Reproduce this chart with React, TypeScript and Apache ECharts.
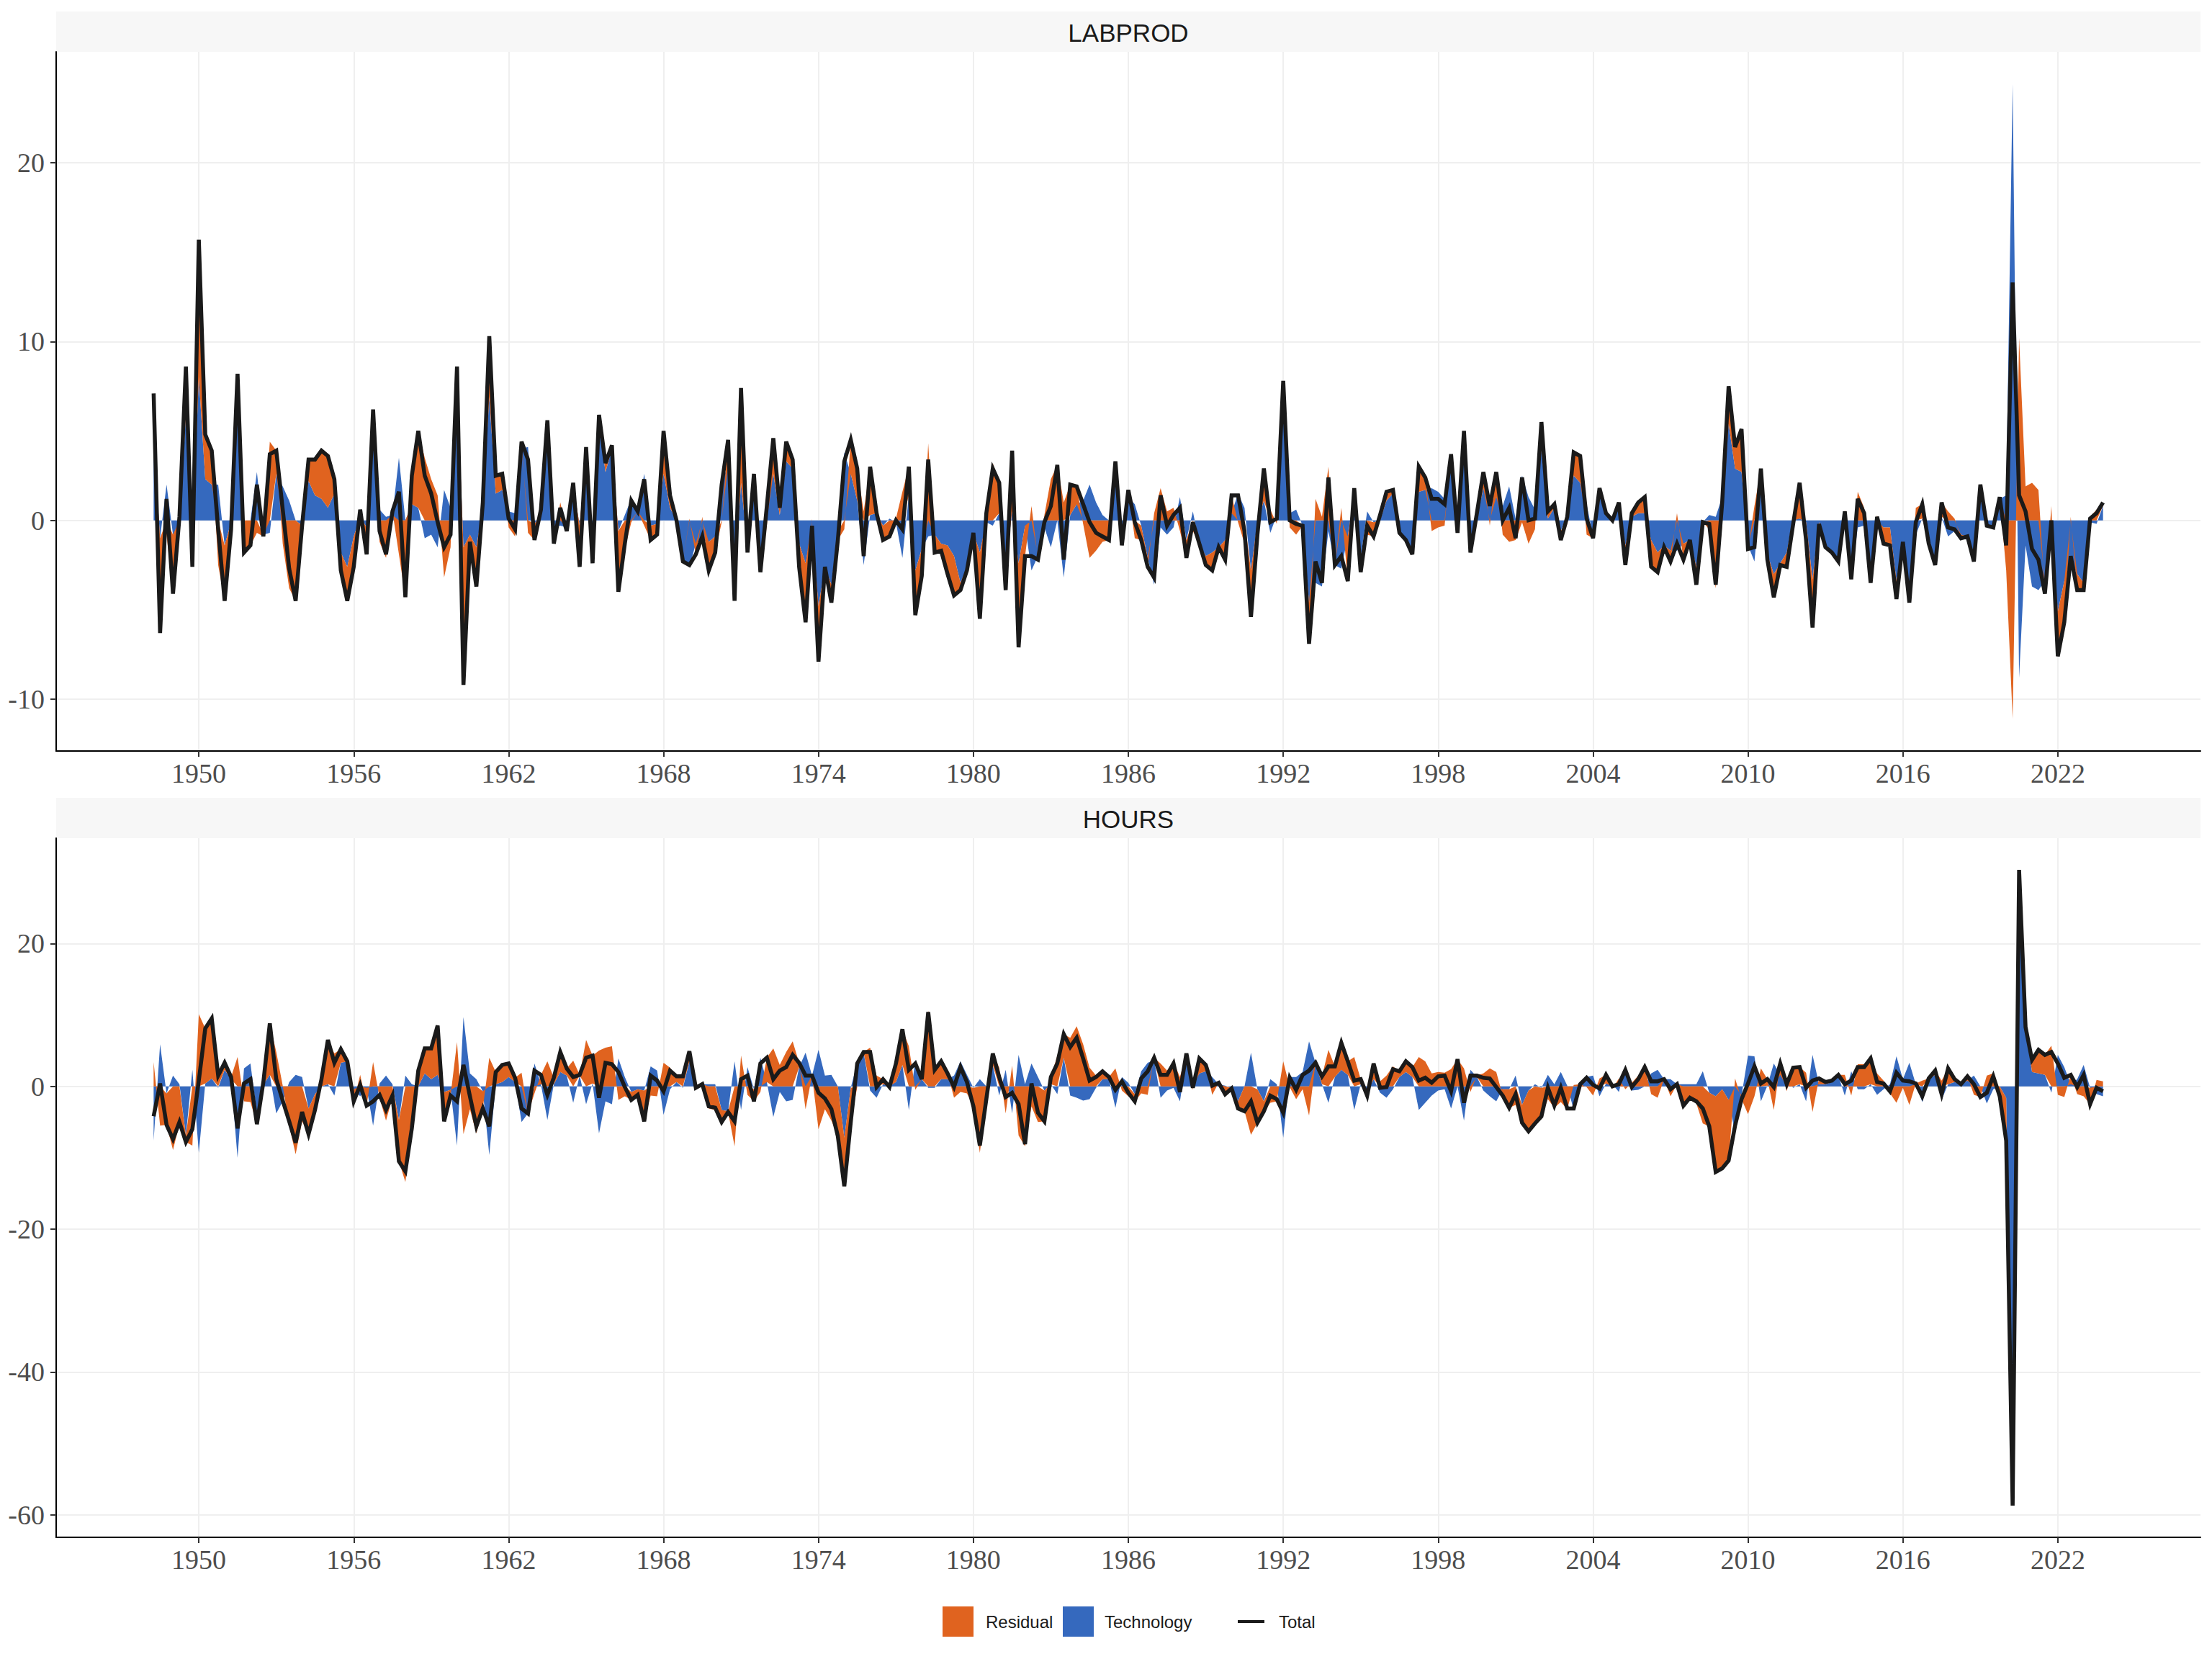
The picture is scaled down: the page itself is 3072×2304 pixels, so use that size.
import { useEffect, useRef } from "react";
import * as echarts from "echarts";

// quarterly data, first observation 1948 Q2 (plotted at 1948.25)
const START_YEAR = 1948.25;

const labprodTotal = [
  7.1, -6.3, 1.2, -4.1, 0.2, 8.6, -2.6, 15.7, 4.8, 3.9,
  -0.5, -4.5, -0.5, 8.2, -1.8, -1.4, 2.0, -0.9, 3.7, 3.9,
  0.6, -2.7, -4.5, -0.3, 3.4, 3.4, 3.9, 3.6, 2.3, -2.8,
  -4.5, -2.6, 0.6, -1.9, 6.2, -0.6, -1.9, 0.5, 1.6, -4.3,
  2.5, 5.0, 2.5, 1.5, -0.1, -1.5, -0.8, 8.6, -9.2, -1.2,
  -3.7, 1.0, 10.3, 2.5, 2.6, 0.1, -0.5, 4.4, 3.4, -1.1,
  0.6, 5.6, -1.3, 0.7, -0.6, 2.1, -2.6, 4.1, -2.4, 5.9,
  3.2, 4.2, -4.0, -1.3, 1.1, 0.5, 2.3, -1.1, -0.8, 5.0,
  1.4, 0.0, -2.3, -2.5, -1.9, -0.9, -2.8, -1.8, 2.0, 4.5,
  -4.5, 7.4, -1.8, 2.6, -2.9, 0.8, 4.6, 0.7, 4.4, 3.4,
  -2.6, -5.7, -0.3, -7.9, -2.6, -4.6, -1.1, 3.3, 4.5, 2.9,
  -2.0, 3.0, 0.4, -1.1, -0.9, 0.0, -0.5, 3.0, -5.3, -3.1,
  3.4, -1.8, -1.7, -3.0, -4.2, -3.9, -2.8, -0.7, -5.5, 0.4,
  2.9, 2.1, -3.9, 3.9, -7.1, -2.0, -2.0, -2.2, -0.1, 0.8,
  3.1, -2.2, 2.0, 1.9, 0.9, -0.1, -0.7, -0.9, -1.1, 3.3,
  -1.4, 1.7, -0.1, -1.1, -2.6, -3.2, 1.4, -0.3, 0.3, 0.7,
  -2.1, -0.1, -1.3, -2.5, -2.8, -1.5, -2.2, 1.4, 1.4, -0.6,
  -5.4, -0.8, 2.9, -0.1, 0.1, 7.8, 0.0, -0.2, -0.3, -6.9,
  -2.3, -3.5, 2.4, -2.5, -2.0, -3.4, 1.8, -2.9, -0.3, -0.9,
  0.3, 1.6, 1.7, -0.7, -1.1, -1.9, 3.0, 2.4, 1.2, 1.2,
  0.9, 3.7, -0.7, 5.0, -1.8, 0.4, 2.7, 0.8, 2.7, 0.0,
  0.7, -1.0, 2.4, 0.0, 0.1, 5.5, 0.5, 0.9, -1.1, 0.2,
  3.8, 3.6, 0.1, -1.0, 1.8, 0.4, 0.0, 1.0, -2.5, 0.4,
  1.0, 1.3, -2.6, -2.9, -1.5, -2.3, -1.3, -2.2, -1.1, -3.6,
  -0.1, -0.2, -3.6, 1.0, 7.5, 4.1, 5.1, -1.6, -1.5, 2.9,
  -2.2, -4.3, -2.5, -2.6, -0.2, 2.1, -1.1, -6.0, -0.2, -1.5,
  -1.8, -2.3, 0.5, -3.3, 1.2, 0.4, -3.5, 0.2, -1.3, -1.4,
  -4.4, -1.2, -4.6, -0.1, 0.9, -1.3, -2.5, 1.0, -0.4, -0.5,
  -1.0, -0.9, -2.3, 2.0, -0.3, -0.4, 1.3, -1.4, 13.3, 1.4,
  0.5, -1.6, -2.2, -4.1, 0.0, -7.6, -5.7, -2.0, -3.9, -3.9,
  0.1, 0.4, 1.0,
];

const labprodTech = [
  4.5, -1.0, 2.0, -0.8, -0.5, 5.9, -1.0, 8.0, 2.3, 2.0,
  2.0, -1.4, -0.1, 7.9, 0.0, 0.0, 2.7, -0.8, -0.7, 2.6,
  1.9, 1.1, 0.0, -0.3, 2.2, 1.4, 1.2, 0.7, 1.5, -1.8,
  -2.6, -0.9, 0.2, -0.4, 5.7, 0.6, 0.2, 0.3, 3.5, 0.0,
  0.9, 0.7, -1.0, -0.8, -1.5, 1.7, 0.7, 7.9, -1.5, -0.8,
  -1.5, 0.7, 6.9, 1.5, 1.7, 0.5, 0.4, 4.0, 4.1, -0.2,
  0.3, 5.5, -0.4, -0.3, -0.4, 2.0, -0.3, 3.8, -1.0, 5.5,
  2.7, 4.0, -0.6, 0.3, 1.2, 0.5, 2.6, -0.3, -0.2, 2.6,
  0.7, 0.0, -2.3, -2.6, -1.3, -1.1, -1.2, -0.9, 2.1, 3.1,
  -3.5, 2.1, -1.5, 2.0, -2.5, 1.1, 2.6, 0.3, 3.3, 2.9,
  -1.3, -2.4, -0.4, -4.8, -2.6, -3.6, -0.6, 3.8, 2.6, 1.1,
  -2.5, 0.3, 0.4, -0.3, 0.1, -0.1, -2.1, 1.4, -2.8, -1.6,
  -0.9, -0.8, -1.3, -1.4, -2.0, -3.5, -2.6, -0.7, -1.8, -0.1,
  -0.3, 0.4, -2.6, 0.5, -2.4, -0.3, -2.8, -2.0, -0.4, -1.5,
  0.0, -3.2, 0.3, 0.9, 1.1, 2.0, 1.0, 0.3, 0.0, 3.3,
  -0.4, 1.3, 0.9, -0.3, -2.1, -3.6, -0.4, -0.8, -0.4, 1.3,
  -1.1, 0.5, -1.3, -2.0, -1.8, -1.5, -1.1, 0.4, 1.5, 0.7,
  -2.8, -0.1, 1.1, -0.7, 0.3, 6.5, 0.4, 0.6, -0.3, -4.6,
  -3.5, -3.7, -0.6, -2.5, -2.7, -0.9, 1.5, -2.1, 0.5, -0.1,
  0.0, 1.1, 1.5, -0.6, -1.1, -1.8, 1.6, 1.7, 1.8, 1.6,
  1.2, 3.5, -0.6, 4.5, -1.8, 0.1, 1.8, 1.1, 1.3, 0.8,
  1.9, 0.1, 2.5, 1.3, 0.6, 4.0, 0.1, 0.7, -0.6, 0.4,
  2.5, 2.1, 0.9, -0.9, 1.5, 0.3, -0.1, 1.0, -1.4, 0.2,
  0.4, 0.4, -1.1, -1.8, -1.4, -1.7, -1.7, -1.3, -1.1, -2.6,
  -0.1, 0.3, 0.2, 1.3, 5.4, 2.9, 2.7, -1.4, -2.3, 1.8,
  -1.9, -3.0, -2.4, -1.8, 0.2, 0.1, -0.1, -3.3, -0.1, -1.4,
  -1.8, -2.3, -0.1, -3.3, -0.4, -0.3, -3.4, -0.1, -0.4, -0.4,
  -3.4, -1.2, -4.5, -0.8, 0.1, -1.2, -2.4, 0.2, -0.9, -0.6,
  -0.8, -0.9, -2.2, 1.3, -0.2, -0.4, 1.2, 1.4, 24.4, -8.8,
  -1.4, -3.7, -3.9, -3.4, -0.8, -5.1, -3.4, -2.2, -3.0, -3.5,
  -0.1, -0.2, 0.8,
];

const hoursTotal = [
  -4.2, 0.4, -5.4, -7.4, -5.0, -7.8, -6.0, 0.8, 8.1, 9.5,
  1.5, 3.3, 1.3, -5.9, 0.4, 1.0, -5.3, 0.6, 8.8, 1.0,
  -2.0, -4.9, -7.9, -3.6, -6.7, -3.3, 1.0, 6.5, 3.3, 5.2,
  3.5, -2.1, 0.2, -2.7, -2.1, -1.2, -3.3, -1.3, -10.5, -11.9,
  -5.9, 2.2, 5.3, 5.3, 8.5, -4.9, -1.3, -2.1, 3.0, -1.4,
  -5.6, -3.1, -5.6, 2.0, 3.0, 3.2, 1.2, -3.1, -3.8, 2.2,
  1.6, -1.2, 1.2, 4.8, 2.5, 1.3, 1.6, 4.0, 4.3, -1.6,
  3.3, 3.1, 2.0, -0.1, -1.9, -1.2, -4.9, 1.5, 0.8, -0.7,
  2.2, 1.4, 1.4, 4.9, -0.2, 0.3, -2.8, -3.0, -5.0, -3.6,
  -4.9, 1.0, 1.5, -2.1, 3.2, 4.0, 1.0, 2.2, 2.7, 4.4,
  3.3, 1.5, 1.5, -0.9, -1.7, -3.2, -7.0, -14.0, -5.0, 3.2,
  4.8, 4.8, -0.1, 1.0, -0.1, 3.2, 8.0, 2.3, 3.2, 1.0,
  10.4, 2.3, 3.5, 1.8, -0.1, 2.7, 0.6, -2.8, -8.3, -1.8,
  4.6, 1.3, -1.5, -0.9, -2.5, -8.1, 0.4, -3.7, -4.9, 1.3,
  3.2, 7.3, 5.5, 6.8, 3.9, 0.8, 1.3, 2.1, 1.3, -0.5,
  0.7, -0.9, -2.1, 1.1, 2.1, 4.0, 1.6, 1.6, 3.2, -0.8,
  4.6, -0.2, 3.9, 3.0, 0.1, 0.5, -1.1, -0.3, -3.1, -3.5,
  -2.1, -5.1, -3.5, -1.3, -1.8, -3.7, 1.2, -0.5, 1.6, 2.2,
  3.3, 1.4, 2.8, 2.8, 6.1, 3.5, 0.8, 1.0, -1.3, 3.2,
  -0.2, -0.1, 2.4, 2.1, 3.5, 2.7, 0.8, 1.2, 0.5, 1.4,
  1.5, -0.7, 3.8, -2.3, 1.5, 1.5, 1.2, 1.1, -0.1, -1.3,
  -3.0, -1.1, -5.1, -6.3, -5.2, -4.2, -0.2, -2.7, -0.2, -3.1,
  -3.1, 0.3, 1.2, 0.2, -0.3, 1.6, 0.0, 0.3, 2.3, -0.1,
  1.0, 2.7, 0.7, 0.7, 1.0, -0.4, 0.3, -2.7, -1.6, -2.1,
  -3.1, -5.6, -12.0, -11.5, -10.4, -5.5, -1.8, 0.4, 2.8, 0.4,
  1.0, -0.1, 3.2, 0.3, 2.6, 2.7, -0.2, 0.8, 1.1, 0.6,
  0.8, 1.6, 0.3, 0.8, 2.7, 2.7, 3.9, 0.6, 0.4, -0.7,
  1.9, 0.8, 0.7, 0.4, -1.4, 1.1, 2.2, -1.1, 2.5, 1.0,
  0.3, 1.4, 0.3, -1.5, -0.9, 1.4, -1.4, -7.6, -58.7, 30.3,
  8.3, 3.7, 5.1, 4.4, 4.8, 3.2, 1.2, 1.6, -0.1, 1.6,
  -2.5, -0.2, -0.7,
];

const hoursTech = [
  -7.6, 5.9, -1.0, 1.5, 0.3, -6.9, 2.3, -9.3, 0.4, 1.1,
  -0.2, 2.3, 1.0, -10.0, 2.5, 3.2, -3.8, 0.3, 1.6, -3.8,
  -2.1, 0.6, 1.6, 1.3, -3.1, -1.1, 0.0, 0.3, -1.3, 3.3,
  3.5, -0.4, -1.4, -0.2, -5.5, 0.4, 1.5, 0.3, -4.7, 1.5,
  0.3, 0.0, 1.8, 1.0, 1.6, -0.8, -0.5, -8.3, 9.7, 1.8,
  1.0, -0.7, -9.6, 0.3, 0.6, 1.3, 0.6, -5.0, -3.8, 3.2,
  0.3, -4.7, 0.3, 2.0, 1.5, -2.3, 1.5, -2.5, 0.4, -6.6,
  -2.1, -2.5, 3.9, 1.3, -0.8, -0.4, -0.6, 2.8, 2.2, -4.0,
  -0.4, 0.6, -0.2, 3.5, -0.2, 0.3, 0.3, 0.3, -3.3, -3.5,
  3.5, -3.3, 2.7, -0.4, 4.0, 0.6, -4.3, -0.8, -2.1, -1.9,
  2.7, 4.7, 1.5, 5.1, 1.5, 1.6, 0.0, -7.2, -0.2, 3.3,
  4.7, -0.6, -1.6, 0.3, 0.1, 0.6, 3.0, -3.3, 3.7, 1.0,
  -0.2, -0.2, 1.0, 1.0, 1.5, 3.5, 1.6, -0.2, 1.0, 0.0,
  3.0, -1.3, 2.3, -3.8, 4.4, 0.3, 3.2, 1.3, -0.6, 0.3,
  -1.1, 4.0, -1.3, -1.6, -2.0, -1.8, -0.2, 1.0, 1.0, -3.0,
  1.3, 0.5, -1.1, 2.1, 3.3, 3.7, -1.6, -0.6, -0.2, -2.1,
  4.0, 0.3, 1.8, 2.1, 1.3, 0.3, 0.1, -0.2, -2.1, 0.0,
  4.7, -0.4, -2.1, 1.0, 0.3, -7.2, 1.3, 1.3, 2.0, 6.3,
  3.3, 0.3, -2.3, 1.3, 2.3, 1.6, -3.3, 0.3, -0.8, 1.0,
  -0.9, -1.6, -0.4, 1.3, 2.0, 1.3, -3.3, -2.3, -1.3, -0.6,
  -0.4, -3.1, 0.0, -4.8, 2.3, 1.3, -0.6, -1.4, -2.1, -0.4,
  -0.4, 1.5, -2.6, -0.6, 0.3, -0.2, 1.6, 0.3, 2.0, 0.1,
  -3.3, 0.0, 1.3, 1.5, -1.4, 0.4, 0.3, -0.8, 2.7, -0.6,
  -0.5, 0.0, 1.8, 2.3, 1.0, 1.0, 0.3, 0.3, 0.3, 0.3,
  2.1, -0.9, -1.4, -0.4, -1.9, -6.6, -1.3, 4.3, 4.2, -2.1,
  0.1, 3.2, 1.6, 1.0, -0.2, 0.3, -2.1, 4.4, 0.3, 0.3,
  0.6, 1.5, -1.3, 2.1, -0.4, -0.4, 0.3, -1.2, -0.4, 0.3,
  4.2, 1.0, 3.3, 0.3, -2.2, 1.0, 1.6, -1.9, 0.3, 0.6,
  0.3, 0.8, 1.5, 0.0, -2.4, -0.4, 0.0, -1.6, -56.0, 28.0,
  8.3, 2.0, 1.8, 1.6, -0.9, 4.4, 2.7, 0.3, 1.0, 3.0,
  -0.2, -1.1, -1.4,
];

const yearTicks = [1950, 1956, 1962, 1968, 1974, 1980, 1986, 1992, 1998, 2004, 2010, 2016, 2022];
const labprodTicks = [-10, 0, 10, 20];
const hoursTicks = [-60, -40, -20, 0, 20];
const panelTitles = ["LABPROD", "HOURS"];

const ORANGE = "#E0631F";
const BLUE = "#3569BE";
const INK = "#1A1A1A";
const GRID_COLOR = "#EFEFEF";
const TICK_TEXT = "#4D4D4D";

const X_MIN = 1944.475;
const X_MAX = 2027.525;
const PLOT_LEFT = 78;
const PLOT_WIDTH = 2978;
const PLOT_HEIGHT = 971;

const toPairs = (vals: number[]) => vals.map((v, i) => [START_YEAR + i * 0.25, v]);
// value first, so that ECharts stacks the value column (x is encoded from column 1)
const toStackRows = (vals: number[]) => vals.map((v, i) => [v, START_YEAR + i * 0.25]);
// residual = total minus the technology contribution
const residualOf = (total: number[], tech: number[]) =>
  total.map((t, i) => Math.round((t - tech[i]) * 10) / 10);

const panels = [
  { title: panelTitles[0], total: labprodTotal, tech: labprodTech, ticks: labprodTicks, min: -12.9, max: 26.2, top: 72, stripTop: 16 },
  { title: panelTitles[1], total: hoursTotal, tech: hoursTech, ticks: hoursTicks, min: -63.15, max: 34.75, top: 1164, stripTop: 1108 },
];

const App: React.FC = () => {
  const chartRef = useRef<HTMLDivElement>(null);

  useEffect(() => {
    if (!chartRef.current) return;
    const chart = echarts.init(chartRef.current, undefined, { renderer: "svg" });

    const labelFont = { fontFamily: "Liberation Serif", fontSize: 38, color: TICK_TEXT };

    const grids = panels.map((p) => ({ left: PLOT_LEFT, top: p.top, width: PLOT_WIDTH, height: PLOT_HEIGHT }));

    const xAxes = panels.map((_, k) => ({
      type: "value",
      gridIndex: k,
      min: X_MIN,
      max: X_MAX,
      splitLine: { show: false },
      axisLine: { show: true, onZero: false, lineStyle: { color: "#000", width: 2 } },
      axisTick: { show: true, length: 8, customValues: yearTicks, lineStyle: { color: "#333", width: 2 } },
      axisLabel: { ...labelFont, margin: 12, customValues: yearTicks, formatter: (v: number) => String(v) },
    }));

    const yAxes = panels.map((p, k) => ({
      type: "value",
      gridIndex: k,
      min: p.min,
      max: p.max,
      splitLine: { show: false },
      axisLine: { show: true, onZero: false, lineStyle: { color: "#000", width: 2 } },
      axisTick: { show: true, length: 8, customValues: p.ticks, lineStyle: { color: "#333", width: 2 } },
      axisLabel: { ...labelFont, margin: 16, customValues: p.ticks, formatter: (v: number) => String(v) },
    }));

    const series: any[] = [];
    panels.forEach((p, k) => {
      // light grid lines underneath everything
      series.push({
        type: "line",
        xAxisIndex: k,
        yAxisIndex: k,
        data: [[X_MIN, 0]],
        symbol: "none",
        lineStyle: { opacity: 0 },
        silent: true,
        z: 0,
        markLine: {
          silent: true,
          z: 0,
          symbol: ["none", "none"],
          label: { show: false },
          lineStyle: { color: GRID_COLOR, width: 2, type: "solid" },
          data: [...yearTicks.map((v) => ({ xAxis: v })), ...p.ticks.map((v) => ({ yAxis: v }))],
        },
      });
      series.push({
        name: "Technology",
        type: "line",
        xAxisIndex: k,
        yAxisIndex: k,
        stack: "decomp" + k,
        encode: { x: 1, y: 0 },
        data: toStackRows(p.tech),
        symbol: "none",
        lineStyle: { width: 0, opacity: 0 },
        areaStyle: { color: BLUE, opacity: 1 },
        z: 2,
      });
      series.push({
        name: "Residual",
        type: "line",
        xAxisIndex: k,
        yAxisIndex: k,
        stack: "decomp" + k,
        encode: { x: 1, y: 0 },
        data: toStackRows(residualOf(p.total, p.tech)),
        symbol: "none",
        lineStyle: { width: 0, opacity: 0 },
        areaStyle: { color: ORANGE, opacity: 1 },
        z: 2,
      });
      series.push({
        name: "Total",
        type: "line",
        xAxisIndex: k,
        yAxisIndex: k,
        data: toPairs(p.total),
        symbol: "none",
        lineStyle: { color: INK, width: 5.5, join: "miter" },
        z: 4,
      });
    });

    const graphic: any[] = [];
    panels.forEach((p) => {
      graphic.push({
        type: "rect",
        shape: { x: PLOT_LEFT, y: p.stripTop, width: PLOT_WIDTH, height: 56 },
        style: { fill: "#F7F7F7" },
        silent: true,
      });
      graphic.push({
        type: "text",
        x: PLOT_LEFT + PLOT_WIDTH / 2,
        y: p.stripTop + 29,
        style: {
          text: p.title,
          align: "center",
          verticalAlign: "middle",
          fontFamily: "Liberation Sans",
          fontSize: 35,
          fill: INK,
        },
        silent: true,
      });
    });

    // legend at the bottom
    const legendY = 2252;
    const legendText = (text: string, x: number) => ({
      type: "text",
      x,
      y: legendY,
      style: { text, verticalAlign: "middle", fontFamily: "Liberation Sans", fontSize: 24, fill: INK },
    });
    graphic.push(
      { type: "rect", shape: { x: 1309, y: 2231, width: 43, height: 42 }, style: { fill: ORANGE } },
      legendText("Residual", 1369),
      { type: "rect", shape: { x: 1476, y: 2231, width: 43, height: 42 }, style: { fill: BLUE } },
      legendText("Technology", 1534),
      { type: "line", shape: { x1: 1719, y1: legendY, x2: 1756, y2: legendY }, style: { stroke: INK, lineWidth: 4 } },
      legendText("Total", 1776),
    );

    chart.setOption({
      animation: false,
      backgroundColor: "#FFFFFF",
      grid: grids,
      xAxis: xAxes,
      yAxis: yAxes,
      series,
      graphic,
    });

    return () => {
      chart.dispose();
    };
  }, []);

  return (
    <div
      ref={chartRef}
      style={{ position: "fixed", left: 0, top: 0, width: "3072px", height: "2304px", background: "#fff" }}
    />
  );
};

export default App;
